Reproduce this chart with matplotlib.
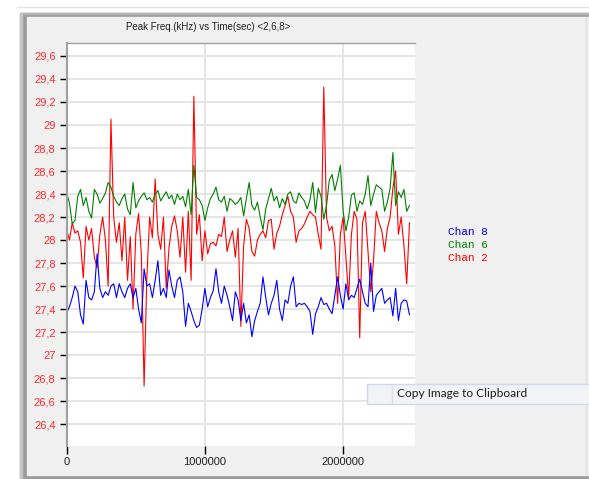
import matplotlib.pyplot as plt
from matplotlib.patches import Rectangle
from matplotlib.ticker import FuncFormatter
import numpy as np

# sample spacing (sec) and data
step = 20000

chan2 = [28.09, 28.00, 28.15, 28.06, 28.08, 27.98, 27.67, 28.12, 28.00, 28.10,
         27.85, 27.76, 28.05, 28.20, 28.00, 27.60, 29.05, 28.20, 27.98, 28.15,
         27.82, 28.20, 27.65, 28.03, 27.40, 28.05, 28.23, 27.88, 26.73, 27.68,
         28.20, 28.02, 28.53, 28.05, 27.92, 28.20, 27.58, 27.93, 28.12, 28.21,
         28.08, 27.85, 28.20, 27.72, 28.25, 27.65, 29.25, 28.05, 28.22, 27.82,
         28.08, 27.88, 27.97, 27.98, 27.95, 28.05, 28.03, 28.20, 27.90, 28.00,
         28.08, 27.85, 28.10, 27.25, 27.95, 28.18, 28.10, 27.90, 27.86, 28.00,
         28.05, 28.08, 28.02, 28.17, 28.18, 27.92, 28.06, 28.12, 28.22, 28.30,
         28.38, 28.25, 28.20, 27.98, 28.08, 28.10, 28.14, 28.20, 28.25, 28.22,
         28.20, 28.05, 27.92, 29.33, 28.20, 28.08, 28.12, 27.95, 27.45, 28.05,
         28.20, 27.85, 27.50, 28.05, 28.25, 28.18, 27.15, 28.15, 28.25, 27.90,
         27.55, 27.82, 28.25, 28.15, 28.08, 27.90, 28.10, 28.20, 28.45, 28.60,
         28.05, 28.20, 27.95, 27.62, 28.15]

chan6 = [28.41, 28.32, 28.14, 28.17, 28.38, 28.44, 28.30, 28.37, 28.25, 28.19,
         28.44, 28.40, 28.32, 28.36, 28.41, 28.50, 28.46, 28.38, 28.33, 28.30,
         28.36, 28.40, 28.27, 28.22, 28.50, 28.28, 28.34, 28.38, 28.41, 28.35,
         28.37, 28.33, 28.40, 28.43, 28.34, 28.38, 28.42, 28.36, 28.39, 28.31,
         28.40, 28.35, 28.38, 28.29, 28.44, 28.22, 28.65, 28.37, 28.35, 28.30,
         28.17, 28.28, 28.36, 28.40, 28.46, 28.35, 28.33, 28.38, 28.25, 28.36,
         28.34, 28.31, 28.33, 28.37, 28.21, 28.36, 28.50, 28.30, 28.26, 28.33,
         28.20, 28.09, 28.27, 28.36, 28.45, 28.34, 28.38, 28.28, 28.36, 28.31,
         28.40, 28.42, 28.34, 28.32, 28.41, 28.37, 28.34, 28.27, 28.35, 28.50,
         28.24, 28.45, 28.38, 28.18, 28.30, 28.52, 28.57, 28.43, 28.53, 28.65,
         28.25, 28.08, 28.20, 28.39, 28.41, 28.25, 28.34, 28.31, 28.40, 28.56,
         28.30, 28.40, 28.48, 28.46, 28.44, 28.25, 28.33, 28.45, 28.76, 28.30,
         28.42, 28.37, 28.44, 28.25, 28.30]

chan8 = [27.37, 27.42, 27.50, 27.60, 27.55, 27.35, 27.27, 27.65, 27.50, 27.48,
         27.55, 27.88, 27.58, 27.50, 27.55, 27.52, 27.60, 27.62, 27.50, 27.62,
         27.55, 27.50, 27.58, 27.62, 27.50, 27.58, 27.40, 27.28, 27.75, 27.60,
         27.62, 27.50, 27.65, 27.82, 27.52, 27.58, 27.50, 27.74, 27.60, 27.50,
         27.65, 27.68, 27.55, 27.25, 27.45, 27.38, 27.30, 27.24, 27.26, 27.40,
         27.58, 27.42, 27.50, 27.56, 27.75, 27.55, 27.45, 27.60, 27.52, 27.42,
         27.30, 27.55, 27.48, 27.30, 27.45, 27.28, 27.35, 27.16, 27.30, 27.38,
         27.45, 27.68, 27.50, 27.35, 27.45, 27.52, 27.65, 27.40, 27.30, 27.48,
         27.45, 27.60, 27.68, 27.42, 27.45, 27.44, 27.45, 27.42, 27.38, 27.18,
         27.36, 27.42, 27.50, 27.44, 27.45, 27.40, 27.36, 27.52, 27.68, 27.52,
         27.40, 27.62, 27.48, 27.52, 27.50, 27.58, 27.66, 27.55, 27.45, 27.42,
         27.80, 27.38, 27.52, 27.55, 27.58, 27.45, 27.48, 27.50, 27.34, 27.58,
         27.30, 27.45, 27.48, 27.47, 27.35]

x_ticks = [0, 1000000, 2000000]
y_ticks = np.round(np.arange(26.4, 29.61, 0.2), 1)
title = 'Peak Freq.(kHz) vs Time(sec) <2,6,8>'
legend_labels = ['Chan 8', 'Chan 6', 'Chan 2']

time = np.arange(len(chan2)) * step

W, H = 589, 479
fig = plt.figure(figsize=(W / 100, H / 100), dpi=100)
fig.patch.set_facecolor('white')

# window frame drawn in pixel coordinates
bg = fig.add_axes([0, 0, 1, 1], zorder=-1)
bg.set_xlim(0, W)
bg.set_ylim(H, 0)
bg.axis('off')
bg.plot([17, W], [6.5, 6.5], color='#e4e4e4', lw=1)
bg.add_patch(Rectangle((20, 12.5), 600, 500, color='#9a9a9a'))
bg.add_patch(Rectangle((20, 12.5), 600, 1.5, color='#b4b4b4'))
bg.add_patch(Rectangle((20, 12.5), 2, 500, color='#c4c4c4'))
bg.add_patch(Rectangle((27, 17), 600, 458, color='#f0f0f0'))
bg.plot([586, 586], [17, 475], color='#e0e0e0', lw=1)
bg.text(208, 27, title, ha='center', va='center', fontsize=7,
        family='Liberation Sans', color='#202020')

colors = ['#0000ff', '#008000', '#ff0000']
for i, (lab, c) in enumerate(zip(legend_labels, colors)):
    bg.text(448, 231.5 + i * 13.2, lab, ha='left', va='center', fontsize=8,
            family='Liberation Mono', color=c)

ax = fig.add_axes([66.7 / W, 1 - 446 / H, (415 - 66.7) / W, (446 - 43.3) / H])
ax.plot(time, chan2, color='#ff0000', lw=0.8)
ax.plot(time, chan6, color='#008000', lw=0.8)
ax.plot(time, chan8, color='#0000ff', lw=0.8)

ax.set_xlim(0, 2.52e6)
ax.set_ylim(26.21, 29.71)
ax.set_xticks(x_ticks)
ax.set_yticks(y_ticks)
ax.xaxis.set_major_formatter(FuncFormatter(lambda v, p: '%d' % v))
ax.yaxis.set_major_formatter(FuncFormatter(lambda v, p: ('%g' % round(v, 1)).replace('.', ',')))
ax.tick_params(axis='y', color='black', labelcolor='#ff2a2a', length=5, width=1,
               direction='out', labelsize=8, pad=3)
ax.tick_params(axis='x', color='black', labelcolor='#202020', length=6, width=1,
               direction='out', labelsize=8, pad=2)
for lbl in ax.get_xticklabels() + ax.get_yticklabels():
    lbl.set_family('Liberation Sans')

ax.grid(color='#e2e2e2', lw=1.2)
ax.set_axisbelow(True)
ax.spines['left'].set_color('#a0a0a0')
ax.spines['left'].set_linewidth(1.5)
ax.spines['top'].set_color('#a0a0a0')
ax.spines['top'].set_linewidth(1)
ax.spines['right'].set_visible(False)
ax.spines['bottom'].set_visible(False)

# context menu lying over the chart
ov = fig.add_axes([0, 0, 1, 1], zorder=5)
ov.set_xlim(0, W)
ov.set_ylim(H, 0)
ov.axis('off')
ov.add_patch(Rectangle((367, 383.5), 240, 20, fc='#f1f3f6', ec='#cfd9e8', lw=1))
ov.plot([391.5, 391.5], [384.5, 402.5], color='#e0e0e0', lw=1)
ov.text(397, 393.5, 'Copy Image to Clipboard', ha='left', va='center', fontsize=8.6,
        family='Lato', color='#1a1a1a')

plt.savefig('out.png', dpi=100)
